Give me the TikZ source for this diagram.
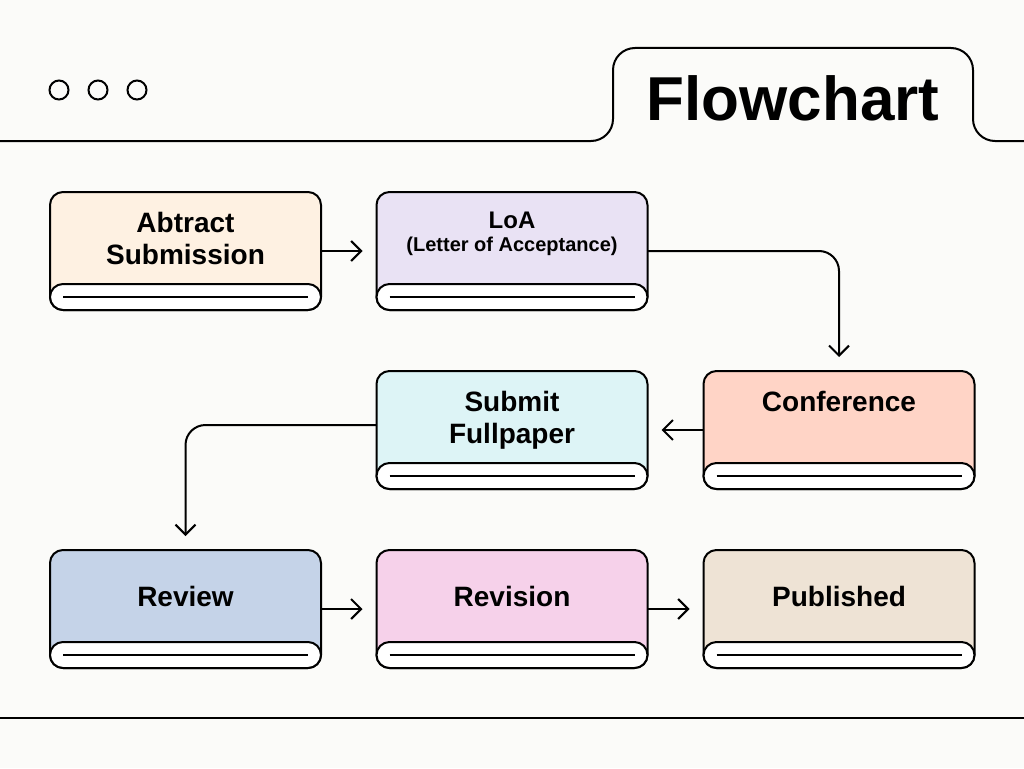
\documentclass[tikz,border=0pt]{standalone}
\usepackage{fontspec}
\setmainfont{Liberation Sans}
\usetikzlibrary{arrows.meta, positioning}

\definecolor{paper}{HTML}{FBFBF9}
\definecolor{abscol}{HTML}{FEF1E2}
\definecolor{loacol}{HTML}{E9E2F4}
\definecolor{confcol}{HTML}{FFD4C6}
\definecolor{subcol}{HTML}{DDF4F6}
\definecolor{revcol}{HTML}{C5D3E8}
\definecolor{revicol}{HTML}{F6D1EA}
\definecolor{pubcol}{HTML}{EEE3D5}

\begin{document}
\begin{tikzpicture}[x=1pt, y=-1pt, line width=2pt, >={Straight Barb[length=10pt,width=20pt]},
	card/.style={draw, rounded corners=13pt, minimum width=271pt, minimum height=118pt, inner sep=0pt, outer sep=0pt},
	pill/.style={draw, fill=white, rounded corners=13pt},
	cardtext/.style={font=\bfseries\fontsize{28}{32}\selectfont, align=center, text depth=0pt, inner sep=0pt},
	flow/.style={->, shorten >=14pt, rounded corners=20pt}]
	% === 背景与窗口框 ===
	\fill[paper] (0,0) rectangle (1024,768);
	\useasboundingbox (0,0) rectangle (1024,768);
	\draw[rounded corners=22pt] (0,141) -- (613,141) -- (613,48) -- (973,48) -- (973,141) -- (1024,141);
	\draw[line width=2.5pt] (0,718) -- (1024,718);
	\foreach \cx in {59,98,137} \draw (\cx,90) circle (9.5pt);
	\node[font=\bfseries\fontsize{62}{70}\selectfont, text depth=0pt, inner sep=0pt] (title) at (793,98.5) {Flowchart};
	
	% === 卡片 ===
	\node[card, fill=abscol] (abs) at (185.5,251) {};
	\node[card, fill=loacol] (loa) at (512,251) {};
	\node[card, fill=confcol] (conf) at (839,430) {};
	\node[card, fill=subcol] (sub) at (512,430) {};
	\node[card, fill=revcol] (rev) at (185.5,609) {};
	\node[card, fill=revicol] (revi) at (512,609) {};
	\node[card, fill=pubcol] (pub) at (839,609) {};
	
	% 底部卷轴
	\foreach \n in {abs,loa,conf,sub,rev,revi,pub} {
		\draw[pill] ([yshift=26pt]\n.south west) rectangle (\n.south east);
		\draw ([xshift=13pt,yshift=13pt]\n.south west) -- ([xshift=-13pt,yshift=13pt]\n.south east);
	}
	
	% 文字
	\node[cardtext] (absT) at (185.5,238) {Abtract\\Submission};
	\node[cardtext, font=\bfseries\fontsize{24}{28}\selectfont] (loaT) at (512,220) {LoA};
	\node[cardtext, font=\bfseries\fontsize{20}{23}\selectfont] (loaS) at (512,244) {(Letter of Acceptance)};
	\node[cardtext] (confT) at (839,401) {Conference};
	\node[cardtext] (subT) at (512,417) {Submit\\Fullpaper};
	\node[cardtext] (revT) at (185.5,596) {Review};
	\node[cardtext] (reviT) at (512,596) {Revision};
	\node[cardtext] (pubT) at (839,596) {Published};
	
	% === 流程箭头 ===
	\draw[flow] (abs) -- (loa);
	\draw[flow] (loa.east) -| (conf.north);
	\draw[flow] (conf) -- (sub);
	\draw[flow] ([yshift=5pt]sub.west) -| (rev.north);
	\draw[flow] (rev) -- (revi);
	\draw[flow] (revi) -- (pub);
\end{tikzpicture}
\end{document}
